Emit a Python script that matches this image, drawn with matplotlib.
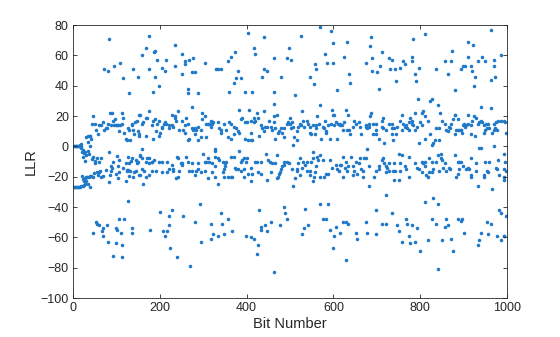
import matplotlib
matplotlib.use("Agg")
import matplotlib.pyplot as plt
import numpy as np

# ---- data: (bit number, LLR) ----
init_bits = [0, 1, 2, 3, 4, 5, 6, 7, 8, 9, 10, 11, 12, 13, 14, 15, 16]
init_llr = [0, -26.8, 0, -26.8, 0, -26.8, 0, -26.8, 0, -26.8, 0, -26.8, 0, -26.8, 0, -26.8, 0]

seg_a = [(84,71),(72,51),(81,50),(95,53),(109,55),(116,45),(130,35),(139,51),(150,46),
         (47,20),(44,15),(51,15),(54,11),(57,8),(61,14),(65,14),(70,16),(72,11),(75,12),(78,12),(80,15),
         (85,22),(90,22),(87,14),(91,17),(94,14),(97,18),(98,14),(101,14),(104,14),(107,10),(109,14),
         (113,22),(116,19),(113,15),(118,9),(121,5),(124,4),(126,12),(130,11),(131,4),(136,14),(137,15),
         (139,11),(141,8),(143,16),(147,17),(149,10),(153,21),(151,7),(31,6),(35,7),(38,7),(40,7),(35,3),(41,5),
         (17,1),(19,1.5),(18,0),(19,-1.3),
         (18,-26),(22,-26),(25,-25.5),(28,-24.6),(21,-19.6),(24,-21.5),(26,-23),(28,-21),(30,-20),(33,-20.4),
         (36,-20),(39,-19.8),(42,-19.3),(45,-20),(35,-24.6),(38,-27),(31,-22.6),(49,-17.4),(55,-16.7),(58,-19),
         (61,-16.7),(63,-16),(65,-20.4),(68,-19.8),(75,-15.6),(83,-23.3),(85,-19),(88,-16),(90,-14.5),(98,-18),
         (104,-20.6),(107,-16.7),(116,-14.5),(121,-22.9),(124,-16.2),(127,-15.6),(130,-19.6),(139,-20),
         (141,-16.7),(144,-16),(153,-19),
         (21,-3.5),(24,-2.4),(25,-4.4),(28,-4),(31,-5.7),(28,-9.7),(22,-7.3),(35,-3),(38,0),(36,-5.3),(43,-8.6),
         (47,-6.8),(50,-9.7),(51,-11),(56,-8),(60,-10.5),(65,-7.5),(83,-3.7),(91,-10),(88,-12.7),(102,-6.6),
         (105,-9.2),(123,-10.7),(126,-7.3),(128,-11.2),(134,-9.5),(144,-9.2),(147,-10.8),(149,-10.3),(154,-6.2),
         (137,-8),(104,-13.2),(131,-16),(124,-15.6),
         (45,-57),(53,-50),(55,-51),(61,-52),(68,-59),(67,-56),(70,-54),(78,-52),(80,-63),(98,-54),(101,-55),
         (107,-48),(118,-48),(111,-57),(98,-64),(114,-65),(93,-72),(114,-73),(126,-36),(135,-57),(137,-54)]

seg_b = [(174,73),(167,65),(160,60),(187,62),(190,63),(194,57),(174,51),(204,52),(211,50),(215,57),(234,67),
         (234,53),(250,61),(257,56),(259,54),(268,57),(277,58),(275,49),(280,49),(252,48),(304,55),(190,46),
         (198,40),(185,36),(266,38),(264,35),(289,35),
         (155,21),(176,23),(167,19),(171,19),(185,17),(190,18),(197,17),(227,21),(234,20),(243,23),(250,17),
         (261,19),(273,26),(298,22),(305,20),(319,17),(323,16),(158,15),(162,16),(181,14),(194,15),(204,13),
         (209,15),(213,16),(215,15),(220,14),(222,12),(227,14),(231,13),(235,19),(238,17),(245,11),(254,11),
         (258,14),(257,9),(266,15),(273,12),(277,11),(282,12),(284,11),(287,13),(280,8),(296,11),(298,18),
         (307,15),(310,15),(314,15),(319,13),(321,15),(307,6),(152,8),(169,7),(185,5),(199,7),(201,9),(206,12),
         (192,10),(289,4),(266,4),(268,5),(296,6),
         (160,-2),(155,-6),(158,-8),(160,-15),(171,-8),(176,-8),(181,-10),(169,-10),(183,-10),(187,-9),(174,-11),
         (197,-10),(206,-10),(217,-10),(227,-12),(231,-15),(240,-7),(243,-8),(248,-11),(250,-11),(261,-7),
         (266,-10),(275,-11),(287,-11),(300,-5),(303,-10),(307,-10),(312,-8),(314,-10),(321,-11),(326,-2),
         (326,-7),(155,-19),(164,-16),(169,-20),(174,-19),(181,-16),(192,-16),(206,-17),(217,-17),(222,-15),
         (231,-16),(238,-21),(242,-20),(245,-16),(250,-12),(268,-16),(273,-16),(280,-19),(284,-16),(289,-15),
         (296,-17),(303,-16),(312,-21),(321,-17),(326,-20),(162,-25),
         (201,-43),(178,-55),(208,-56),(217,-56),(213,-59),(222,-46),(229,-42),(220,-52),(254,-46),(224,-67),
         (240,-73),(270,-79),(282,-50),(293,-38),(296,-63),(319,-51),(323,-58),(317,-61)]

seg_c = [(404,75),(441,72),(416,65),(420,61),(374,62),(365,59),(358,56),(330,51),(335,51),(342,51),(379,50),
         (376,45),(386,45),(372,42),(360,36),(397,36),(413,36),(439,51),(448,50),(436,46),(462,58),(480,46),
         (492,58),(498,65),(464,36),(462,28),
         (333,16),(337,12),(342,11),(340,9),(349,15),(353,11),(356,6),(363,5),(360,16),(365,15),(370,13),(372,8),
         (376,12),(379,10),(383,9),(383,24),(388,18),(390,19),(397,16),(402,16),(406,24),(409,9),(404,4),(409,4),
         (413,4),(397,5),(411,17),(416,19),(418,16),(420,17),(425,22),(427,19),(429,7),(434,14),(436,12),(439,10),
         (441,23),(443,13),(448,13),(452,17),(457,13),(459,11),(462,20),(466,12),(469,21),(464,16),(473,9),
         (475,10),(480,12),(485,12),(487,6),(492,15),(496,16),(499,19),(482,9),(466,5),
         (328,-3),(328,-13),(333,-8),(337,-9),(346,-10),(346,-17),(349,-15),(351,-13),(351,-11),(349,-20),
         (353,-10),(358,-20),(363,-20),(367,-20),(363,-7),(370,-7),(374,-14),(376,-15),(381,-15),(383,-3),
         (386,-16),(388,-10),(390,-9),(393,-20),(395,-15),(395,-8),(399,-10),(402,-8),(404,-18),(409,-23),
         (409,-14),(413,-18),(420,-10),(425,-10),(426,-17),(432,-10),(432,-18),(445,-5),(446,-22),(450,-9),
         (454,-10),(457,-17),(459,-11),(466,-11),(469,-6),(471,-21),(473,-20),(475,-18),(478,-17),(480,-15),
         (482,-13),(485,-12),(487,-10),(494,-10),(498,-11),(333,-25),
         (340,-44),(344,-51),(356,-48),(367,-56),(333,-59),(349,-58),(399,-59),(411,-60),(416,-61),(427,-65),
         (423,-71),(429,-42),(434,-53),(432,-55),(443,-52),(446,-56),(457,-50),(462,-83),(478,-52),(487,-40),
         (489,-44),(492,-48)]

seg_d = [(568,79),(595,76),(526,73),(632,69),(598,68),(581,61),(625,59),(503,57),(558,54),(561,51),(586,55),
         (598,55),(545,46),(556,41),(637,48),(639,42),(609,37),(512,34),
         (505,16),(503,12),(508,13),(510,6),(508,1),(515,10),(515,4),(522,15),(526,14),(528,23),(531,17),(538,17),
         (533,13),(545,13),(545,9),(549,8),(561,14),(561,12),(558,8),(563,20),(570,27),(572,5),(575,13),(581,17),
         (584,10),(584,9),(588,14),(591,5),(596,24),(598,21),(602,21),(595,15),(601,14),(605,16),(609,5),(611,15),
         (614,14),(616,15),(623,11),(625,16),(630,24),(632,11),(634,21),(637,11),(639,8),(648,17),(653,15),
         (658,16),(662,13),(664,8),(500,15),(518,13),(541,15),(552,14),(567,15),(578,12),(620,14),(644,13),
         (505,-15),(508,-26),(512,-21),(515,-16),(517,-15),(519,-11),(522,-8),(524,-19),(528,-14),(531,-10),
         (535,-12),(538,-16),(540,-10),(545,-16),(547,-19),(549,-10),(552,-4),(552,-23),(554,-8),(556,-20),
         (558,-17),(563,-7),(565,-9),(568,-20),(570,-6),(575,-9),(579,-20),(584,-18),(588,-18),(593,-9),
         (607,-12),(609,-15),(614,-12),(618,-12),(621,-20),(623,-7),(628,-10),(632,-16),(634,-13),(641,-7),
         (644,-13),(646,-19),(648,-16),(651,-10),(655,-18),(658,-11),(662,-8),(664,-15),(667,-20),(671,-8),
         (669,-16),(560,-13),(597,-14),(612,-16),(626,-14),
         (535,-41),(542,-52),(533,-54),(528,-58),(570,-38),(588,-38),(575,-48),(584,-48),(591,-55),(602,-59),
         (605,-53),(600,-67),(616,-57),(623,-50),(630,-50),(634,-51),(628,-75),(653,-57),(655,-61)]

seg_e = [(687,72),(784,71),(810,74),(685,66),(674,55),(690,58),(701,49),(690,50),(708,53),(713,62),(729,58),
         (734,57),(731,51),(743,51),(754,52),(761,56),(766,54),(780,59),(782,56),(797,52),(789,48),(791,43),
         (745,43),(704,38),
         (674,13),(676,14),(681,15),(685,20),(687,22),(678,12),(683,13),(692,15),(697,11),(699,15),(692,8),
         (697,8),(706,5),(711,13),(713,17),(715,19),(715,12),(717,2),(722,11),(729,15),(736,15),(734,12),(734,8),
         (740,12),(745,8),(747,13),(738,4),(757,21),(754,17),(757,11),(761,15),(764,13),(767,14),(770,12),
         (773,11),(775,16),(777,19),(780,15),(782,17),(784,14),(787,22),(789,11),(793,13),(798,2),(796,31),
         (803,22),(800,16),(807,23),(805,14),(810,20),(812,5),(819,17),(823,30),(828,31),(823,8),(826,1),
         (830,2),(833,4),
         (674,-8),(678,-2),(683,-13),(681,-26),(694,-20),(697,-16),(704,-13),(704,-15),(711,-9),(715,-8),
         (717,-11),(720,-13),(722,-17),(724,-14),(727,-11),(727,-16),(722,-32),(738,-16),(743,-16),(740,-22),
         (740,-11),(750,-5),(754,-11),(757,-6),(752,-22),(754,-16),(764,-13),(768,-15),(773,-7),(773,-20),
         (789,-11),(793,-14),(798,-15),(803,-10),(807,-11),(805,-17),(810,-10),(812,-13),(814,-19),(819,-20),
         (821,-8),(821,-17),(826,-17),(828,-10),(830,-15),
         (697,-42),(734,-44),(676,-50),(678,-57),(699,-58),(711,-51),(720,-51),(747,-52),(750,-56),(768,-48),
         (770,-51),(780,-52),(793,-54),(759,-63),(775,-59),(777,-64),(787,-63),(800,-69),(810,-37),(819,-62),
         (826,-48),(830,-34)]

seg_f = [(962,77),(911,69),(922,67),(987,60),(874,63),(837,51),(856,56),(872,56),(863,48),(909,59),(899,53),
         (904,53),(893,51),(918,53),(920,50),(927,46),(925,40),(932,56),(943,59),(950,56),(969,57),(971,53),
         (973,46),(964,44),(879,37),(842,27),(846,22),
         (837,12),(844,12),(851,17),(858,15),(860,11),(863,10),(867,13),(869,12),(872,15),(876,18),(879,21),
         (881,21),(879,8),(883,11),(886,11),(888,18),(890,11),(893,11),(895,11),(897,9),(899,14),(902,15),
         (904,13),(906,14),(909,15),(911,21),(916,8),(918,14),(920,17),(925,20),(927,7),(929,19),(932,15),
         (936,16),(939,26),(941,17),(943,16),(946,9),(948,14),(950,11),(952,15),(955,12),(957,15),(959,12),
         (964,25),(966,9),(969,15),(971,11),(973,12),(975,16),(978,11),(980,17),(987,17),(992,17),(996,16),
         (998,9),(969,0),(844,4),
         (837,-10),(840,-6),(844,-16),(849,-5),(849,-8),(851,-9),(853,-14),(858,-11),(860,-16),(867,-14),
         (869,-15),(881,-6),(883,-20),(886,-18),(888,-10),(890,-10),(890,-15),(895,-10),(899,-13),(906,-15),
         (909,-14),(913,-15),(916,-20),(916,-8),(918,-19),(929,-11),(929,-16),(934,-26),(936,-1),(939,-1),
         (946,-20),(948,-19),(950,-10),(955,-16),(957,-17),(959,-10),(966,-28),(975,-14),(978,-15),(980,-9),
         (982,-19),(992,-15),(992,-22),(994,-5),(996,-10),(998,-16),(994,-20),
         (842,-38),(837,-51),(851,-62),(856,-53),(860,-48),(865,-52),(872,-61),(876,-69),(886,-48),(895,-49),
         (897,-48),(902,-57),(932,-65),(936,-62),(941,-57),(957,-58),(955,-50),(962,-51),(978,-59),(982,-42),
         (985,-44),(987,-62),(992,-59),(994,-59),(998,-46),(840,-81)]

x_ticks = [0, 200, 400, 600, 800, 1000]
y_ticks = [-100, -80, -60, -40, -20, 0, 20, 40, 60, 80]

# ---- assemble ----
pairs = seg_a + seg_b + seg_c + seg_d + seg_e + seg_f
bits = np.array(init_bits + [p[0] for p in pairs], dtype=float)
llr = np.array(init_llr + [p[1] for p in pairs], dtype=float)

plt.rcParams['font.family'] = ['Liberation Sans', 'DejaVu Sans']
axc = '#262626'

fig = plt.figure(figsize=(5.6, 3.37), dpi=100)
ax = fig.add_axes([0.1304, 0.1157, 0.775, 0.810])
ax.scatter(bits, llr, s=6.5, marker='o', color='#1f78c8', linewidths=0)

ax.set_xlim(0, 1000)
ax.set_ylim(-100, 80)
ax.set_xticks(x_ticks)
ax.set_yticks(y_ticks)
ax.tick_params(direction='in', length=3, width=0.6, colors=axc, labelsize=9,
               top=True, right=True, labeltop=False, labelright=False, pad=3)
for s in ax.spines.values():
    s.set_color(axc)
    s.set_linewidth(0.6)
ax.set_xlabel('Bit Number', fontsize=10.5, color=axc, labelpad=2)
ax.set_ylabel('LLR', fontsize=10.5, color=axc, labelpad=2)

fig.savefig('out.png', dpi=100)
